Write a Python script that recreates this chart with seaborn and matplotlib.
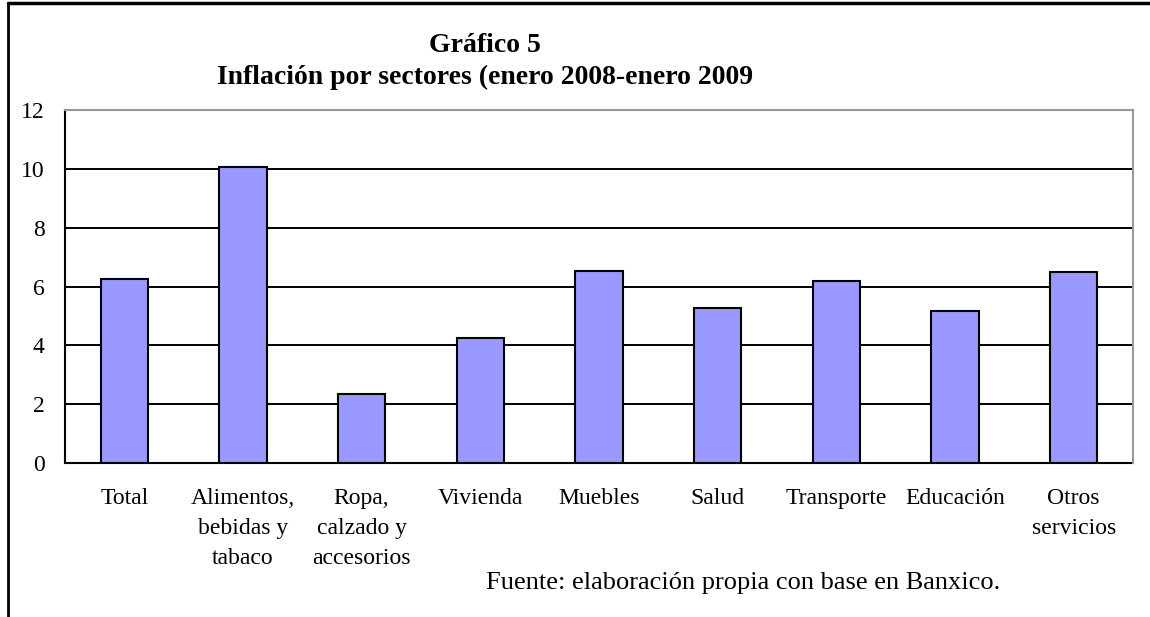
import numpy as np
import pandas as pd
import seaborn as sns
import matplotlib.pyplot as plt
from matplotlib.lines import Line2D

# Data
sectores = ['Total', 'Alimentos,\nbebidas y\ntabaco', 'Ropa,\ncalzado y\naccesorios', 'Vivienda',
            'Muebles', 'Salud', 'Transporte', 'Educación', 'Otros\nservicios']
inflacion = [6.25, 10.06, 2.36, 4.25, 6.54, 5.27, 6.20, 5.18, 6.49]
y_ticks = [0, 2, 4, 6, 8, 10, 12]

sns.set_style('white')
plt.rcParams['font.family'] = ['Liberation Serif', 'DejaVu Serif']
plt.rcParams['text.color'] = 'black'
plt.rcParams['xtick.color'] = 'black'
plt.rcParams['ytick.color'] = 'black'

df = pd.DataFrame({'sector': sectores, 'inflacion': inflacion})

fig = plt.figure(figsize=(11.5, 6.17), dpi=100)
ax = fig.add_axes([0.0565, 0.2496, 0.9287, 0.5721])

sns.barplot(data=df, x='sector', y='inflacion', color='#9999FF', saturation=1,
            edgecolor='black', linewidth=1.5, width=0.4, ax=ax, zorder=3)

ax.set_ylim(0, 12)
ax.set_xlim(-0.5, len(sectores) - 0.5)
ax.set_yticks(y_ticks)
ax.set_yticklabels([str(t) for t in y_ticks], fontsize=17, color='black')
ax.set_xlabel('')
ax.set_ylabel('')

# black horizontal gridlines
ax.yaxis.grid(True, color='black', linewidth=1.4, zorder=0)
ax.set_axisbelow(True)

# tick marks between categories, labels centered on bars
ax.set_xticks(np.arange(len(sectores)))
ax.set_xticklabels(sectores, fontsize=17, linespacing=1.55, va='top', color='black')
ax.set_xticks(np.arange(len(sectores) + 1) - 0.5, minor=True)
ax.tick_params(axis='x', which='major', length=0, pad=18)
ax.tick_params(axis='x', which='minor', length=6, width=1.3, color='black', direction='out')
ax.tick_params(axis='y', length=6.5, width=1.3, color='black', direction='out', pad=8)

for side in ['left', 'bottom']:
    ax.spines[side].set_color('black')
    ax.spines[side].set_linewidth(1.5)
for side in ['top', 'right']:
    ax.spines[side].set_color('#999999')
    ax.spines[side].set_linewidth(1.5)
    ax.spines[side].set_zorder(4)

fig.text(0.4217, 0.927, 'Gráfico 5', ha='center', va='center', fontsize=20, fontweight='bold')
fig.text(0.4217, 0.874, 'Inflación por sectores (enero 2008-enero 2009', ha='center', va='center',
         fontsize=20, fontweight='bold')
fig.text(0.646, 0.055, 'Fuente: elaboración propia con base en Banxico.', ha='center', va='center',
         fontsize=19)

# frame around the chart: left and top edges only
fig.add_artist(Line2D([0.007, 0.007], [0, 0.995], color='black', linewidth=2, transform=fig.transFigure))
fig.add_artist(Line2D([0.007, 1.0], [0.995, 0.995], color='black', linewidth=2.5, transform=fig.transFigure))

fig.savefig('out.png', dpi=100)
